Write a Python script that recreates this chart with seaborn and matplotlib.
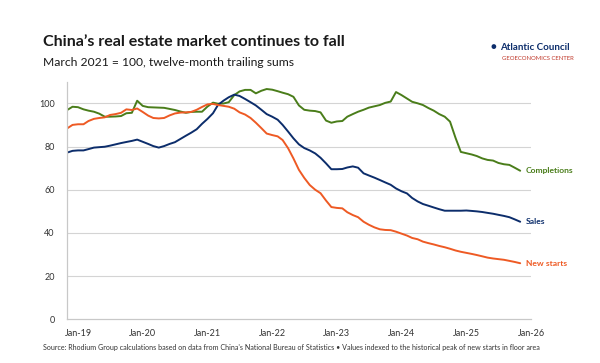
import pandas as pd
import numpy as np
import seaborn as sns
import matplotlib.pyplot as plt
import matplotlib.dates as mdates

### Data (index, March 2021 = 100), monthly Nov 2018 - Nov 2025
months = pd.date_range("2018-11-01", "2025-11-01", freq="MS")

sales = [77.2, 78.0, 78.2, 78.2, 78.8, 79.5, 79.7, 79.9, 80.4, 81.0, 81.6, 82.1, 82.6, 83.2,
         82.2, 81.2, 80.2, 79.5, 80.2, 81.2, 82.0, 83.5, 85.0, 86.4, 88.0, 90.5, 92.8, 95.4,
         99.2, 101.2, 102.8, 104.0, 103.4, 102.0, 100.5, 99.0, 97.0, 95.0, 93.8, 92.4, 90.0,
         86.9, 83.8, 81.0, 79.3, 78.2, 76.8, 74.8, 72.2, 69.5, 69.5, 69.6, 70.3, 70.8, 70.2,
         67.6, 66.6, 65.6, 64.5, 63.4, 62.3, 60.6, 59.3, 58.3, 56.2, 54.6, 53.4, 52.6, 51.8,
         51.0, 50.3, 50.3, 50.3, 50.3, 50.4, 50.2, 50.0, 49.7, 49.3, 48.9, 48.4, 47.9, 47.3,
         46.3, 45.2]

new_starts = [88.4, 90.0, 90.3, 90.3, 91.8, 92.8, 93.2, 93.5, 94.6, 95.0, 95.6, 97.2, 96.9,
              97.6, 96.0, 94.3, 93.2, 93.0, 93.2, 94.4, 95.3, 95.7, 95.8, 96.0, 97.0, 98.3,
              99.5, 99.7, 99.2, 98.8, 98.4, 97.5, 95.8, 94.8, 93.2, 91.0, 88.5, 86.0, 85.3,
              84.7, 83.0, 79.2, 74.5, 69.2, 65.5, 62.2, 60.0, 58.4, 55.0, 52.0, 51.6, 51.4,
              49.6, 48.3, 47.3, 45.2, 43.8, 42.6, 41.7, 41.4, 41.3, 40.6, 39.7, 38.8, 37.7,
              37.1, 36.0, 35.3, 34.7, 34.0, 33.4, 32.7, 31.9, 31.3, 30.8, 30.3, 29.8, 29.2,
              28.6, 28.2, 27.9, 27.6, 27.1, 26.6, 26.0]

completions = [96.9, 98.4, 98.2, 97.2, 96.6, 96.1, 95.2, 93.8, 93.8, 93.9, 94.1, 95.4, 95.6,
               101.2, 98.8, 98.2, 98.1, 98.0, 97.9, 97.4, 96.9, 96.2, 95.6, 96.0, 96.1, 96.1,
               98.5, 100.3, 99.8, 99.9, 100.5, 103.8, 105.5, 106.2, 106.2, 104.6, 105.8, 106.6,
               106.3, 105.6, 104.9, 104.2, 103.0, 99.0, 97.0, 96.6, 96.4, 95.8, 92.0, 91.0,
               91.6, 91.8, 93.8, 95.0, 96.1, 97.0, 98.0, 98.6, 99.2, 100.2, 100.8, 105.2, 103.8,
               102.2, 100.7, 100.0, 99.2, 97.8, 96.6, 95.0, 93.8, 91.5, 84.0, 77.5, 76.9, 76.3,
               75.6, 74.5, 73.8, 73.5, 72.4, 71.8, 71.5, 70.2, 68.8]

series = ["Completions", "Sales", "New starts"]
colors = {"Completions": "#4a7d1a", "Sales": "#0c2d6b", "New starts": "#ee5a24"}

df = pd.DataFrame({"month": months, "Sales": sales, "New starts": new_starts,
                   "Completions": completions})
long = df.melt(id_vars="month", var_name="series", value_name="value")

### Plot
sns.set_theme(style="white")
plt.rcParams["font.family"] = ["Lato", "DejaVu Sans"]

fig = plt.figure(figsize=(6, 3.63), dpi=100)
ax = fig.add_axes([0.112, 0.12, 0.773, 0.655])

sns.lineplot(data=long, x="month", y="value", hue="series", hue_order=series,
             palette=colors, linewidth=1.4, legend=False, ax=ax)

ax.set_xlim(pd.Timestamp("2018-11-01"), pd.Timestamp("2026-01-01"))
ax.set_ylim(0, 110)
ax.set_yticks([0, 20, 40, 60, 80, 100])
ax.set_xticks(pd.date_range("2019-01-01", "2026-01-01", freq="YS"))
ax.xaxis.set_major_formatter(mdates.DateFormatter("Jan-%y"))
ax.set_xlabel("")
ax.set_ylabel("")

for y in [20, 40, 60, 80, 100]:
    ax.axhline(y, color="#d4d4d4", linewidth=0.8, zorder=0)

for s in ["top", "right"]:
    ax.spines[s].set_visible(False)
for s in ["left", "bottom"]:
    ax.spines[s].set_color("#c8c8c8")
    ax.spines[s].set_linewidth(0.9)

ax.tick_params(axis="x", length=3, color="#c8c8c8", labelsize=6.5, labelcolor="#333333", pad=4)
ax.tick_params(axis="y", length=0, labelsize=6.5, labelcolor="#333333", pad=9)

# end labels
last = df.iloc[-1]
for s in series:
    ax.annotate(s, (last["month"], last[s]), xytext=(4, 0), textcoords="offset points",
                va="center", ha="left", fontsize=6.1, fontweight="bold", color=colors[s],
                annotation_clip=False)

# titles and branding
fig.text(0.0717, 0.873, "China\u2019s real estate market continues to fall",
         fontsize=11.5, fontweight="bold", color="#1a1a1a")
fig.text(0.0717, 0.817, "March 2021 = 100, twelve-month trailing sums",
         fontsize=8.7, color="#1a1a1a")
fig.text(0.818, 0.862, "\u25cf", fontsize=7, color="#0c2d6b")
fig.text(0.833, 0.862, "Atlantic Council", fontsize=7, fontweight="bold", color="#0c2d6b")
fig.text(0.836, 0.836, "GEOECONOMICS CENTER", fontsize=4.3, color="#c0392b")

fig.text(0.072, 0.037,
         "Source: Rhodium Group calculations based on data from China's National Bureau of "
         "Statistics \u2022 Values indexed to the historical peak of new starts in floor area",
         fontsize=5.1, color="#333333")

fig.savefig("out.png", dpi=100, facecolor="white")
